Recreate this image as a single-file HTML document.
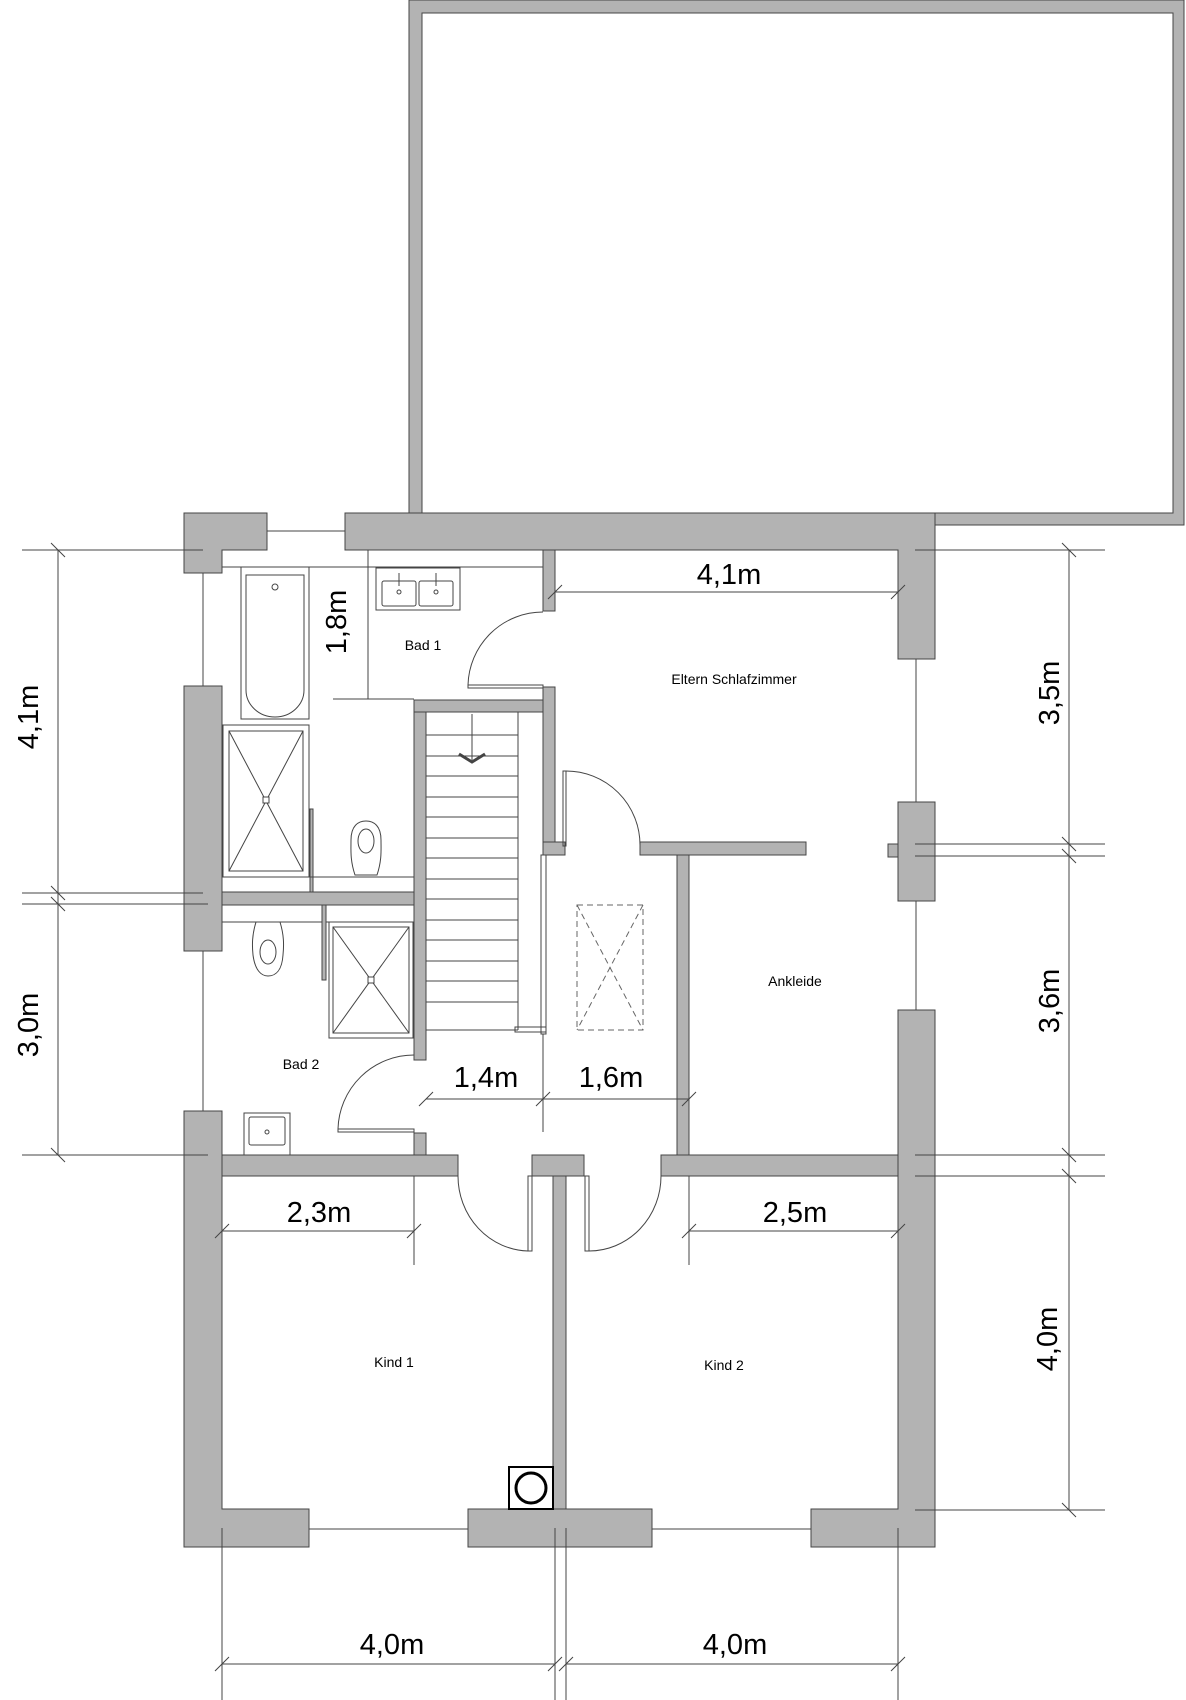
<!DOCTYPE html>
<html><head><meta charset="utf-8"><style>html,body{margin:0;padding:0;background:#fff}svg{display:block}</style></head>
<body>
<svg width="1186" height="1700" viewBox="0 0 1186 1700" xmlns="http://www.w3.org/2000/svg" font-family="Liberation Sans, sans-serif">
<g fill="#b3b3b3" stroke="#444" stroke-width="1">
<!-- big rect -->
<path d="M409,0 H1184 V525 H935 V513 H409 Z"/>
</g>
<rect x="422" y="13" width="751" height="500" fill="#fff" stroke="#444"/>
<g fill="#b3b3b3" stroke="#444" stroke-width="1">
<path d="M184,513 H267 V550 H222 V573 H184 Z"/>
<path d="M345,513 H935 V659 H898 V550 H345 Z"/>
<rect x="543" y="550" width="12" height="61"/>
<rect x="184" y="686" width="38" height="265"/>
<path d="M184,1111 H222 V1509 H309 V1547 H184 Z"/>
<rect x="222" y="892" width="192" height="13"/>
<rect x="414" y="700" width="12" height="360"/>
<rect x="414" y="1133" width="12" height="22"/>
<rect x="414" y="700" width="141" height="12"/>
<rect x="543" y="687" width="12" height="155"/>
<rect x="543" y="842" width="22" height="13"/>
<rect x="640" y="842" width="166" height="13"/>
<rect x="677" y="855" width="12" height="300"/>
<rect x="898" y="802" width="37" height="99"/>
<rect x="888" y="844" width="10" height="13"/>
<path d="M898,1010 H935 V1547 H811 V1509 H898 Z"/>
<rect x="222" y="1155" width="236" height="21"/>
<rect x="532" y="1155" width="52" height="21"/>
<rect x="661" y="1155" width="237" height="21"/>
<rect x="553" y="1176" width="13" height="333"/>
<rect x="468" y="1509" width="184" height="38"/>
</g>
<!-- windows -->
<g stroke="#444" stroke-width="1" fill="none">
<line x1="267" y1="531" x2="345" y2="531"/>
<line x1="203" y1="573" x2="203" y2="686"/>
<line x1="203" y1="951" x2="203" y2="1111"/>
<line x1="916" y1="659" x2="916" y2="802"/>
<line x1="916" y1="901" x2="916" y2="1010"/>
<line x1="309" y1="1529" x2="468" y2="1529"/>
<line x1="652" y1="1529" x2="811" y2="1529"/>
</g>
<!-- interior lines -->
<g stroke="#444" stroke-width="1" fill="none">
<line x1="222" y1="567" x2="543" y2="567"/>
<line x1="368" y1="550" x2="368" y2="699"/>
<line x1="333" y1="699" x2="414" y2="699"/>
<rect x="241" y="567" width="68" height="152"/>
<path d="M246,575 H304 V690 A29,27 0 0 1 246,690 Z"/>
<circle cx="275" cy="587" r="3"/>
<rect x="223" y="725" width="86" height="152"/>
<rect x="229" y="731" width="74" height="140"/>
<line x1="229" y1="731" x2="303" y2="871"/><line x1="303" y1="731" x2="229" y2="871"/>
<rect x="263" y="797" width="6" height="6" fill="#fff"/>
<rect x="310" y="809" width="3" height="83" fill="#b3b3b3"/>
<line x1="222" y1="877" x2="414" y2="877"/>
<path d="M355,875 C350,860 351,850 351,840 C351,826 358,821 366,821 C374,821 381,826 381,840 C381,850 382,860 377,875 Z"/>
<ellipse cx="366" cy="841" rx="8" ry="12"/>
<line x1="222" y1="922" x2="414" y2="922"/>
<path d="M256,922 C252,935 252,945 253,955 C255,970 261,976 268,976 C276,976 282,970 283,955 C284,945 284,935 280,922 Z"/>
<ellipse cx="268" cy="952" rx="8" ry="12"/>
<rect x="322" y="905" width="4" height="75" fill="#b3b3b3"/>
<rect x="329" y="922" width="84" height="116"/>
<rect x="333" y="927" width="76" height="106"/>
<line x1="333" y1="927" x2="409" y2="1033"/><line x1="409" y1="927" x2="333" y2="1033"/>
<rect x="368" y="977" width="6" height="6" fill="#fff"/>
<!-- bad1 sink -->
<rect x="376" y="568" width="84" height="42"/>
<rect x="382" y="581" width="34" height="25" rx="2"/>
<rect x="419" y="581" width="34" height="25" rx="2"/>
<circle cx="399" cy="592" r="2"/><circle cx="436" cy="592" r="2"/>
<line x1="399" y1="573" x2="399" y2="586"/><line x1="436" y1="573" x2="436" y2="586"/>
<!-- bad2 sink -->
<rect x="244" y="1113" width="46" height="42"/>
<rect x="249" y="1117" width="36" height="28" rx="2"/>
<circle cx="267" cy="1132" r="2"/>
<!-- stairs -->
<line x1="518" y1="712" x2="518" y2="1030"/>
<line x1="426" y1="1030" x2="518" y2="1030"/>
<line x1="426" y1="735" x2="518" y2="735"/><line x1="426" y1="756" x2="518" y2="756"/>
<line x1="426" y1="776" x2="518" y2="776"/><line x1="426" y1="797" x2="518" y2="797"/>
<line x1="426" y1="817" x2="518" y2="817"/><line x1="426" y1="838" x2="518" y2="838"/>
<line x1="426" y1="858" x2="518" y2="858"/><line x1="426" y1="879" x2="518" y2="879"/>
<line x1="426" y1="899" x2="518" y2="899"/><line x1="426" y1="920" x2="518" y2="920"/>
<line x1="426" y1="940" x2="518" y2="940"/><line x1="426" y1="961" x2="518" y2="961"/>
<line x1="426" y1="981" x2="518" y2="981"/><line x1="426" y1="1002" x2="518" y2="1002"/>
<line x1="472" y1="714" x2="472" y2="760"/>
<path d="M459,754 L472,762 L485,754" stroke-width="3"/>
<rect x="541" y="855" width="5" height="179"/>
<rect x="515" y="1027" width="31" height="5"/>
<rect x="577" y="905" width="66" height="125" stroke-dasharray="6,4" stroke="#666"/>
<line x1="577" y1="905" x2="643" y2="1030" stroke-dasharray="6,4" stroke="#666"/>
<line x1="643" y1="905" x2="577" y2="1030" stroke-dasharray="6,4" stroke="#666"/>
<!-- doors -->
<rect x="468" y="685" width="75" height="3"/>
<path d="M468,685 A75,75 0 0 1 543,612"/>
<rect x="563" y="771" width="3" height="75"/>
<path d="M566,771 A74,74 0 0 1 640,845"/>
<rect x="338" y="1129" width="76" height="3"/>
<path d="M338,1129 A76,76 0 0 1 414,1055"/>
<rect x="528" y="1176" width="4" height="75"/>
<path d="M458,1176 A72,75 0 0 0 528,1251"/>
<rect x="585" y="1176" width="4" height="75"/>
<path d="M661,1176 A72,75 0 0 1 589,1251"/>
<!-- chimney -->
<rect x="509" y="1467" width="44" height="42" stroke="#000" stroke-width="2"/>
<circle cx="531" cy="1488" r="15" stroke="#000" stroke-width="3"/>
</g>
<!-- dimensions -->
<g stroke="#444" stroke-width="1" fill="none">
<line x1="58" y1="550" x2="58" y2="1155"/>
<line x1="22" y1="550" x2="203" y2="550"/>
<line x1="22" y1="893" x2="203" y2="893"/>
<line x1="22" y1="904" x2="208" y2="904"/>
<line x1="22" y1="1155" x2="208" y2="1155"/>
<path d="M51,543 L65,557 M51,886 L65,900 M51,897 L65,911 M51,1148 L65,1162"/>
<line x1="1069" y1="550" x2="1069" y2="1510"/>
<line x1="915" y1="550" x2="1105" y2="550"/>
<line x1="915" y1="844" x2="1105" y2="844"/>
<line x1="915" y1="856" x2="1105" y2="856"/>
<line x1="915" y1="1155" x2="1105" y2="1155"/>
<line x1="915" y1="1176" x2="1105" y2="1176"/>
<line x1="915" y1="1510" x2="1105" y2="1510"/>
<path d="M1062,543 L1076,557 M1062,837 L1076,851 M1062,849 L1076,863 M1062,1148 L1076,1162 M1062,1169 L1076,1183 M1062,1503 L1076,1517"/>
<line x1="555" y1="592" x2="898" y2="592"/>
<path d="M548,599 L562,585 M891,599 L905,585"/>
<line x1="222" y1="1231" x2="414" y2="1231"/>
<line x1="414" y1="1176" x2="414" y2="1265"/>
<path d="M215,1238 L229,1224 M407,1238 L421,1224"/>
<line x1="689" y1="1231" x2="898" y2="1231"/>
<line x1="689" y1="1176" x2="689" y2="1265"/>
<path d="M682,1238 L696,1224 M891,1238 L905,1224"/>
<line x1="426" y1="1099" x2="689" y2="1099"/>
<line x1="543" y1="1034" x2="543" y2="1132"/>
<path d="M419,1106 L433,1092 M536,1106 L550,1092 M682,1106 L696,1092"/>
<line x1="222" y1="1528" x2="222" y2="1700"/>
<line x1="555" y1="1528" x2="555" y2="1700"/>
<line x1="566" y1="1528" x2="566" y2="1700"/>
<line x1="898" y1="1528" x2="898" y2="1700"/>
<line x1="222" y1="1664" x2="555" y2="1664"/>
<line x1="566" y1="1664" x2="898" y2="1664"/>
<path d="M215,1671 L229,1657 M548,1671 L562,1657 M559,1671 L573,1657 M891,1671 L905,1657"/>
</g>
<g fill="#000" font-size="29" text-anchor="middle">
<text x="729" y="584">4,1m</text>
<text x="319" y="1222">2,3m</text>
<text x="795" y="1222">2,5m</text>
<text x="486" y="1087">1,4m</text>
<text x="611" y="1087">1,6m</text>
<text x="392" y="1654">4,0m</text>
<text x="735" y="1654">4,0m</text>
<text transform="translate(38,717) rotate(-90)">4,1m</text>
<text transform="translate(38,1025) rotate(-90)">3,0m</text>
<text transform="translate(346,622) rotate(-90)">1,8m</text>
<text transform="translate(1059,693) rotate(-90)">3,5m</text>
<text transform="translate(1059,1001) rotate(-90)">3,6m</text>
<text transform="translate(1057,1339) rotate(-90)">4,0m</text>
</g>
<g fill="#000" font-size="14" text-anchor="middle">
<text x="423" y="650">Bad 1</text>
<text x="301" y="1069">Bad 2</text>
<text x="734" y="684">Eltern Schlafzimmer</text>
<text x="795" y="986">Ankleide</text>
<text x="394" y="1367">Kind 1</text>
<text x="724" y="1370">Kind 2</text>
</g>
</svg>
</body></html>
